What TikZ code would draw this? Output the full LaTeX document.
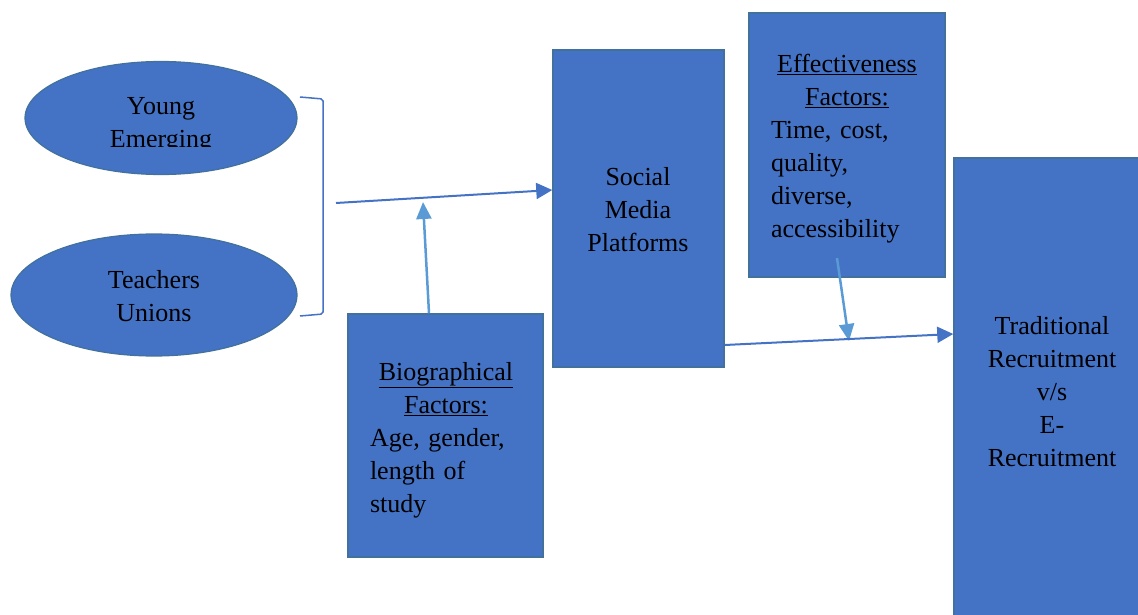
\documentclass[tikz,border=0pt]{standalone}
\usepackage{fontspec}
\setmainfont{Liberation Serif}
\usetikzlibrary{shapes.geometric,arrows.meta}
\definecolor{boxfill}{HTML}{4472C4}
\definecolor{boxline}{HTML}{41719C}
\definecolor{darkarrow}{HTML}{4472C4}
\definecolor{lightarrow}{HTML}{5B9BD5}
\tikzset{
  blob/.style={ellipse,fill=boxfill,draw=boxline,line width=1.2pt,inner sep=0pt},
  panel/.style={rectangle,fill=boxfill,draw=boxline,line width=1.5pt,inner sep=0pt},
  txt/.style={inner sep=0pt,font=\fontsize{26}{33}\selectfont,text=black},
  darrow/.style={draw=darkarrow,line width=2pt,-{Triangle[length=16pt,width=16pt]}},
  larrow/.style={draw=lightarrow,line width=2.5pt,-{Triangle[length=17pt,width=15pt]}},
  bracketline/.style={draw=darkarrow,line width=1.5pt,rounded corners=2pt}
}
\begin{document}
\begin{tikzpicture}[x=1pt,y=-1pt]
\useasboundingbox (0,0) rectangle (1138,615);
% ellipses
\node[blob,minimum width=272pt,minimum height=113pt] (young) at (161,118) {};
\node[blob,minimum width=286pt,minimum height=122pt] (unions) at (154,295) {};
\begin{scope}
\clip (0,0) rectangle (1138,147);
\node[txt,align=center] (youngtxt) at (161,125) {Young\\Emerging};
\end{scope}
\node[txt,align=center] (unionstxt) at (154,296) {Teachers\\Unions};
% bracket
\coordinate (bt) at (300,97);
\coordinate (bb) at (300,316);
\draw[bracketline] (bt) -- (323,99) -- (323,314) -- (bb);
\coordinate (brk) at (336,203);
% boxes
\node[panel,minimum width=171pt,minimum height=317pt] (social) at (638.5,208.5) {};
\node[txt,align=center] (socialtxt) at (638,210) {Social\\Media\\Platforms};
\node[panel,minimum width=195pt,minimum height=243pt] (bio) at (445.5,435.5) {};
\node[txt,text width=152pt,align=left] (biotxt) at (446,440) {\centering\underline{Biographical}\\\underline{Factors:}\par\raggedright Age, gender,\\length of\\study};
\node[panel,minimum width=196pt,minimum height=264pt] (eff) at (847,145) {};
\node[txt,text width=152pt,align=left] (efftxt) at (847,149) {\centering\underline{Effectiveness}\\\underline{Factors:}\par\raggedright Time, cost,\\quality,\\diverse,\\accessibility};
\node[panel,minimum width=200pt,minimum height=480pt] (trad) at (1054,398) {};
\node[txt,align=center] (tradtxt) at (1052,392) {Traditional\\Recruitment\\v/s\\E-\\Recruitment};
% connectors
\draw[darrow] (brk) -- ([yshift=18.5pt]social.west);
\coordinate (bioarrowtip) at (423,202);
\draw[larrow] ([xshift=-16.5pt]bio.north) -- (bioarrowtip);
\coordinate (effstart) at (837,258);
\coordinate (effarrowtip) at (849,341);
\draw[larrow] (effstart) -- (effarrowtip);
\draw[darrow] ([yshift=-136.5pt]social.east) -- ([yshift=64pt]trad.west);
\end{tikzpicture}
\end{document}
